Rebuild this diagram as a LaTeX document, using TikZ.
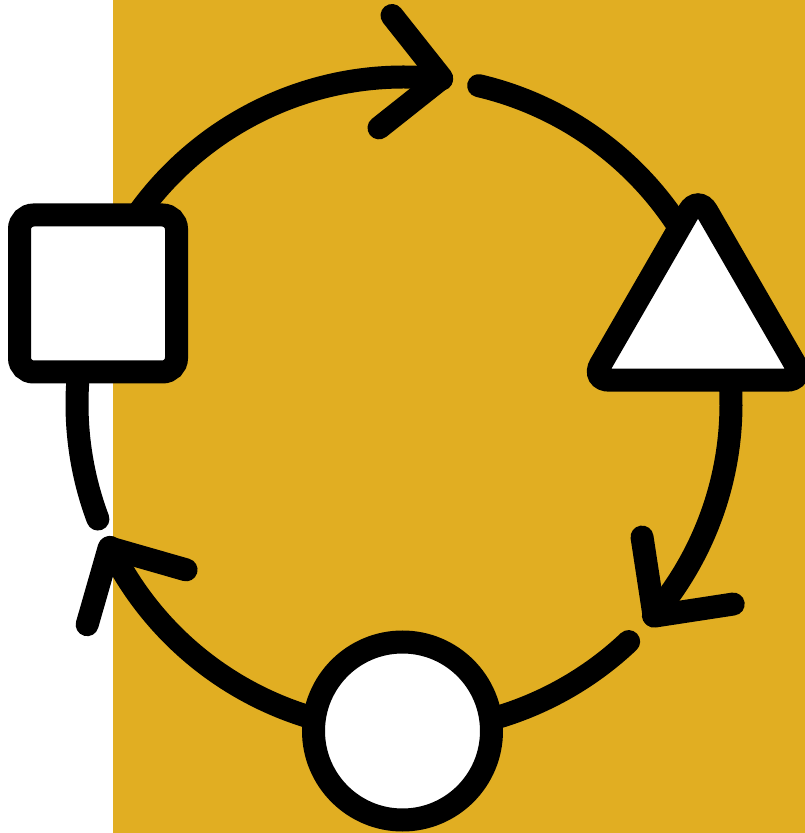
\documentclass[tikz,border=0pt]{standalone}
\usepackage{tikz}
\usetikzlibrary{
    calc,
    shapes.geometric
}
\definecolor{mustard}{RGB}{225,174,34}

\begin{document}
\begin{tikzpicture}[x=0.1mm,y=0.1mm,
    ring/.style={line width=2.3mm, line cap=round},
    chevron/.style={line width=2.3mm, line cap=round, line join=round},
    icon/.style={draw, fill=white, line width=2.3mm, inner sep=0pt}
]

% Frame
\useasboundingbox (0,0) rectangle (805,833);
\fill[mustard] (113,0) rectangle (805,833);

% Centre of the ring
\coordinate (c) at (404,429);

% Ring segments
\draw[ring] ($(c)+(160:327)$) arc[start angle=160, end angle=83.4, radius=327];
\draw[ring] ($(c)+(76.8:327)$) arc[start angle=76.8, end angle=15, radius=327];
\draw[ring] ($(c)+(10:327)$) arc[start angle=10, end angle=-40.3, radius=327];
\draw[ring] ($(c)+(-46.6:327)$) arc[start angle=-46.6, end angle=-85, radius=327];
\draw[ring] ($(c)+(-95:327)$) arc[start angle=-95, end angle=-154, radius=327];
\draw[ring] ($(c)+(200.6:327)$) arc[start angle=200.6, end angle=165, radius=327];

% Arrow heads
\foreach \a/\s in {83.4/0, -40.3/4, 206/3}
    \draw[chevron] ($(c)+(\a:328)+(\a+45+\s:80)$) -- ($(c)+(\a:328)$)
        -- ($(c)+(\a:328)+(\a+135+\s:80)$);

% Shapes
\node[icon, minimum size=15.7mm, rounded corners=1.4mm] (square) at (98,539.5) {};
\node[icon, regular polygon, regular polygon sides=3, minimum size=24.6mm,
    rounded corners=1.8mm] (triangle) at (698,514.3) {};
\node[icon, circle, minimum size=17.8mm] (dot) at (402.5,102) {};

\end{tikzpicture}
\end{document}
